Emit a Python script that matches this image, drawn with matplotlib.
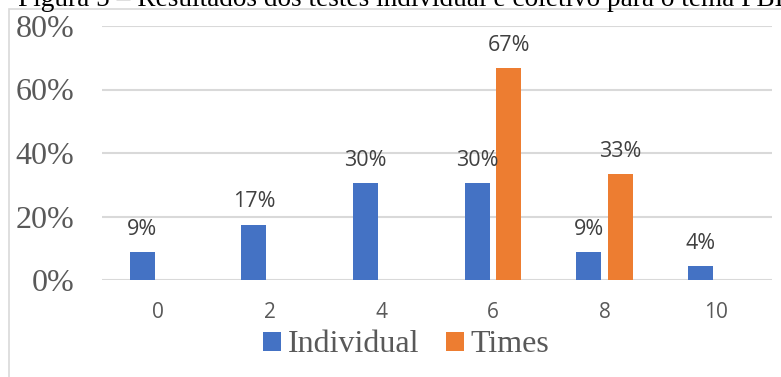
import matplotlib.pyplot as plt
from matplotlib.patches import Rectangle
import numpy as np

# scores and share of participants per score
notas = ["0", "2", "4", "6", "8", "10"]
individual = [2/23, 4/23, 7/23, 7/23, 2/23, 1/23]
times = [0, 0, 0, 2/3, 1/3, 0]
y_ticks = [0, 0.2, 0.4, 0.6, 0.8]
titulo = "Figura 5 \u2013 Resultados dos testes individual e coletivo para o tema PBL"

azul = "#4472C4"
laranja = "#ED7D31"
cinza = "#595959"
serif = ["Liberation Serif", "DejaVu Serif"]
sans = ["Open Sans", "DejaVu Sans"]

W, H = 781, 377
fig = plt.figure(figsize=(W/100, H/100), dpi=100)
ax = fig.add_axes([102/W, 1 - 280/H, (772 - 102)/W, (280 - 26)/H])

x = np.arange(len(notas))
largura = 25/111.7
desloc = 15.7/111.7

b1 = ax.bar(x - desloc, individual, largura, color=azul, label="Individual", zorder=3)
b2 = ax.bar(x + desloc, times, largura, color=laranja, label="Times", zorder=3)

# value labels, only for non-empty bars
for barras in (b1, b2):
    for b in barras:
        v = b.get_height()
        if v <= 0:
            continue
        ax.annotate(f"{v:.0%}", (b.get_x() + b.get_width()/2, v),
                    xytext=(0, 9), textcoords="offset points",
                    ha="center", va="bottom", fontsize=15.5,
                    family=sans, color="#404040")

ax.set_xlim(-0.5, len(notas) - 0.5)
ax.set_ylim(0, 0.8)
ax.set_yticks(y_ticks)
ax.set_yticklabels([f"{t:.0%}" for t in y_ticks], family=serif, fontsize=23, color=cinza)
ax.set_xticks(x)
ax.set_xticklabels(notas, family=sans, fontsize=15, color=cinza)
ax.tick_params(length=0)
ax.tick_params(axis="y", pad=20)
ax.tick_params(axis="x", pad=16)
ax.grid(axis="y", color="#d9d9d9", linewidth=1.5, zorder=0)
for s in ax.spines.values():
    s.set_visible(False)

leg = fig.legend(loc="center", bbox_to_anchor=(0.520, 1 - 345/H), ncol=2, frameon=False,
                 prop={"family": serif, "size": 23}, handlelength=0.55, handleheight=0.55,
                 handletextpad=0.2, columnspacing=0.85)
for t in leg.get_texts():
    t.set_color(cinza)

# outer chart frame and caption above it
fig.patches.append(Rectangle((8.5/W, -0.1), 1.2, 1 + 0.1 - 9.5/H, transform=fig.transFigure,
                             fill=False, edgecolor="#d9d9d9", linewidth=1.2))
fig.text(18/W, 1 - 6/H, titulo, family=serif, fontsize=19.6, color="black", va="baseline")

fig.savefig("out.png", dpi=100)
